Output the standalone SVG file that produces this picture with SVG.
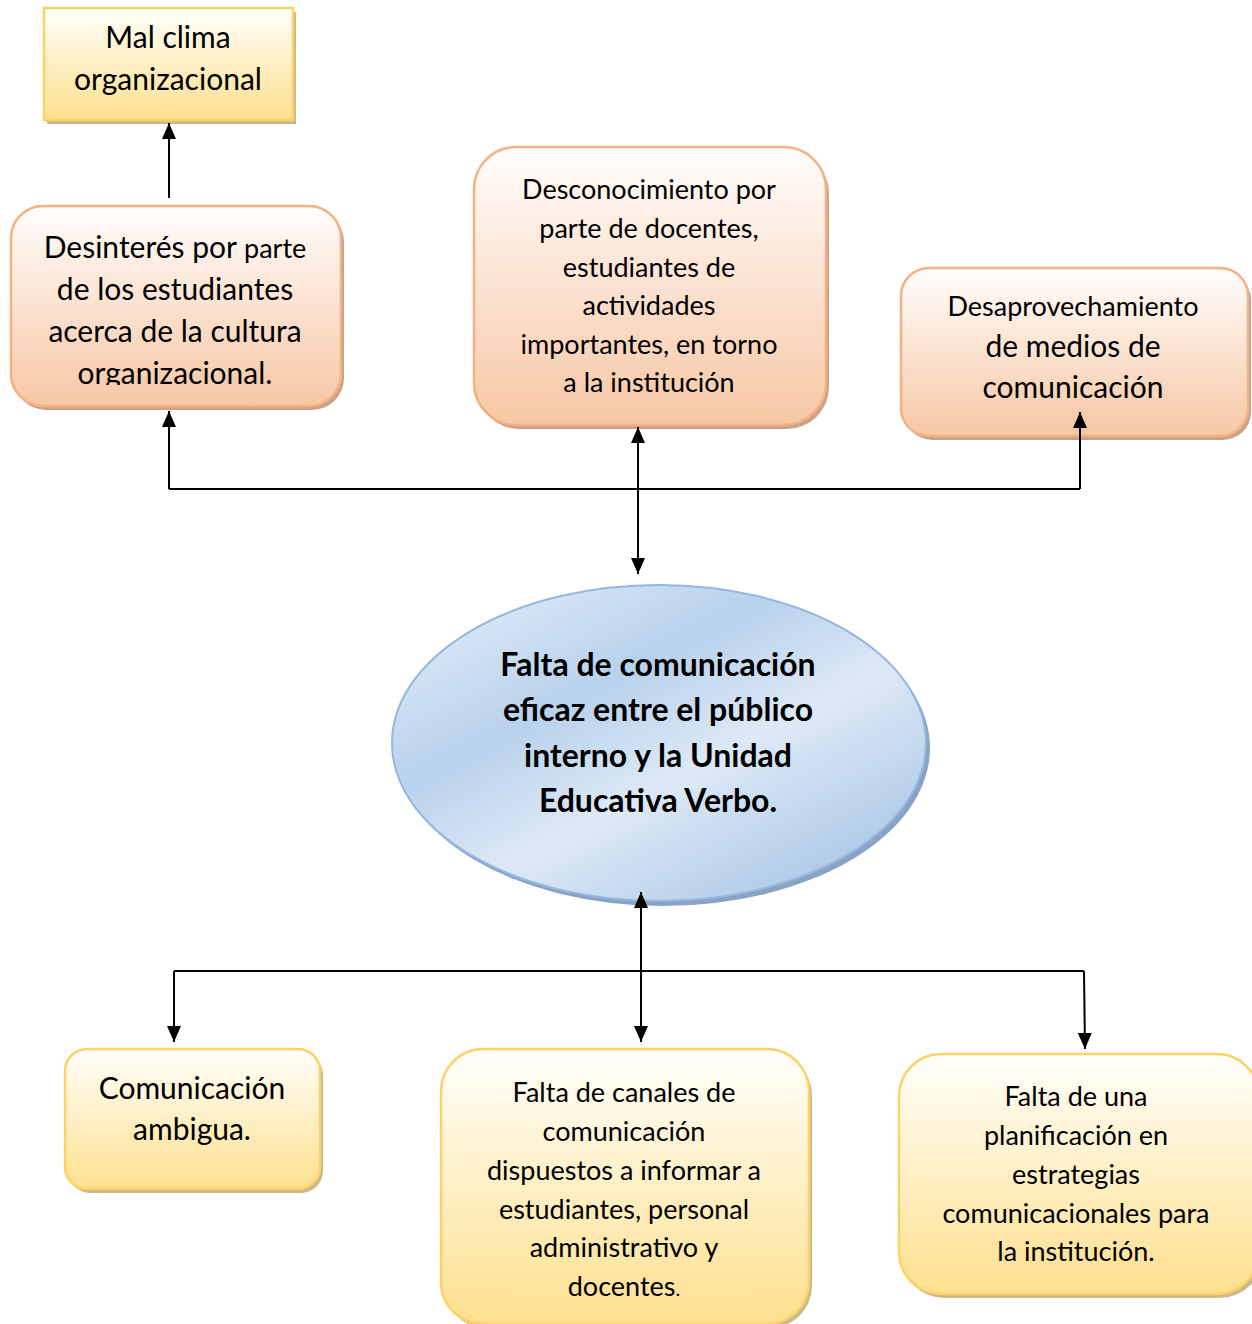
<svg xmlns="http://www.w3.org/2000/svg" width="1252" height="1324" viewBox="0 0 1252 1324">
<defs>
<linearGradient id="gY" x1="0" y1="0" x2="0" y2="1"><stop offset="0" stop-color="#fffefb"/><stop offset="1" stop-color="#fde08e"/></linearGradient>
<linearGradient id="gO" x1="0" y1="0" x2="0" y2="1"><stop offset="0" stop-color="#fffdfc"/><stop offset="1" stop-color="#f7c7a4"/></linearGradient>
<linearGradient id="gB" x1="0.15" y1="0.1" x2="0.85" y2="0.9"><stop offset="0" stop-color="#d7e6f5"/><stop offset="0.3" stop-color="#b8d1ec"/><stop offset="0.6" stop-color="#dde9f6"/><stop offset="1" stop-color="#aec9e7"/></linearGradient>
<marker id="ah" viewBox="0 0 16 14" refX="16" refY="7" markerWidth="16" markerHeight="14" markerUnits="userSpaceOnUse" orient="auto-start-reverse"><path d="M0,0 L16,7 L0,14 z" fill="#000"/></marker>
<clipPath id="clipD"><rect x="11" y="206" width="330" height="179"/></clipPath>
<style>
text{font-family:Lato,"Open Sans","Noto Sans",sans-serif;fill:#000;text-anchor:middle}
.t27{font-size:30px}
.t25{font-size:27px}
.b{font-weight:bold;font-size:32px}
.yel{fill:url(#gY);stroke:#fcd267;stroke-width:2.5}
.ora{fill:url(#gO);stroke:#f4b183;stroke-width:2.5}
.shY{fill:#c9b98c}
.shO{fill:#c9a28a}
.con{fill:none;stroke:#000;stroke-width:2}
</style>
</defs>

<g id="node-mal-clima">
<rect class="shY" x="47" y="12" width="249" height="112"/>
<rect class="yel" x="44" y="8" width="249" height="112"/>
<text class="t27" x="168" y="48">Mal clima</text>
<text class="t27" x="168" y="90">organizacional</text>
</g>

<g id="node-desinteres">
<rect class="shO" x="14" y="210" width="330" height="200" rx="32"/>
<rect class="ora" x="11" y="206" width="330" height="200" rx="32"/>
<g clip-path="url(#clipD)">
<text class="t27" x="175" y="258">Desinterés por <tspan font-size="27">parte</tspan></text>
<text class="t27" x="175" y="300">de los estudiantes</text>
<text class="t27" x="175" y="342">acerca de la cultura</text>
<text class="t27" x="175" y="384">organizacional.</text>
</g>
</g>

<g id="node-desconocimiento">
<rect class="shO" x="477" y="151" width="352" height="278" rx="42"/>
<rect class="ora" x="474" y="147" width="352" height="278" rx="42"/>
<text class="t25" x="649" y="199">Desconocimiento por</text>
<text class="t25" x="649" y="238">parte de docentes,</text>
<text class="t25" x="649" y="277">estudiantes de</text>
<text class="t25" x="649" y="315">actividades</text>
<text class="t25" x="649" y="354">importantes, en torno</text>
<text class="t25" x="649" y="392">a la institución</text>
</g>

<g id="node-desaprovechamiento">
<rect class="shO" x="904" y="272" width="347" height="168" rx="28"/>
<rect class="ora" x="901" y="268" width="347" height="168" rx="28"/>
<text class="t25" x="1073" y="316">Desaprovechamiento</text>
<text class="t27" x="1073" y="357">de medios de</text>
<text class="t27" x="1073" y="398">comunicación</text>
</g>

<g id="node-central">
<ellipse cx="663" cy="748" rx="267" ry="158" fill="#8aa3c2"/>
<ellipse cx="659" cy="743" rx="267" ry="158" fill="url(#gB)" stroke="#95b7df" stroke-width="2"/>
<text class="b" x="658" y="676">Falta de comunicación</text>
<text class="b" x="658" y="721">eficaz entre el público</text>
<text class="b" x="658" y="767">interno y la Unidad</text>
<text class="b" x="658" y="812">Educativa Verbo.</text>
</g>

<g id="node-ambigua">
<rect class="shY" x="68" y="1053" width="255" height="140" rx="22"/>
<rect class="yel" x="65" y="1049" width="255" height="140" rx="22"/>
<text class="t27" x="192" y="1099">Comunicación</text>
<text class="t27" x="192" y="1140">ambigua.</text>
</g>

<g id="node-canales">
<rect class="shY" x="444" y="1053" width="368" height="275" rx="42"/>
<rect class="yel" x="441" y="1049" width="368" height="275" rx="42"/>
<text class="t25" x="624" y="1102">Falta de canales de</text>
<text class="t25" x="624" y="1141">comunicación</text>
<text class="t25" x="624" y="1180">dispuestos a informar a</text>
<text class="t25" x="624" y="1219">estudiantes, personal</text>
<text class="t25" x="624" y="1257">administrativo y</text>
<text class="t25" x="624" y="1296">docentes<tspan font-size="20">.</tspan></text>
</g>

<g id="node-planificacion">
<rect class="shY" x="902" y="1058" width="360" height="240" rx="42"/>
<rect class="yel" x="899" y="1054" width="360" height="240" rx="42"/>
<text class="t25" x="1076" y="1106">Falta de una</text>
<text class="t25" x="1076" y="1145">planificación en</text>
<text class="t25" x="1076" y="1184">estrategias</text>
<text class="t25" x="1076" y="1223">comunicacionales para</text>
<text class="t25" x="1076" y="1261">la institución.</text>
</g>

<g id="connectors">
<line class="con" x1="169" y1="198" x2="169" y2="123" marker-end="url(#ah)"/>
<polyline class="con" points="169,489 1080,489"/>
<line class="con" x1="169" y1="489" x2="169" y2="411" marker-end="url(#ah)"/>
<line class="con" x1="1080" y1="489" x2="1080" y2="412" marker-end="url(#ah)"/>
<line class="con" x1="638" y1="427" x2="638" y2="574" marker-start="url(#ah)" marker-end="url(#ah)"/>
<line class="con" x1="641" y1="892" x2="641" y2="1042" marker-start="url(#ah)" marker-end="url(#ah)"/>
<polyline class="con" points="174,971 1084,971"/>
<line class="con" x1="174" y1="971" x2="174" y2="1042" marker-end="url(#ah)"/>
<line class="con" x1="1084" y1="971" x2="1085" y2="1049" marker-end="url(#ah)"/>
</g>
</svg>
